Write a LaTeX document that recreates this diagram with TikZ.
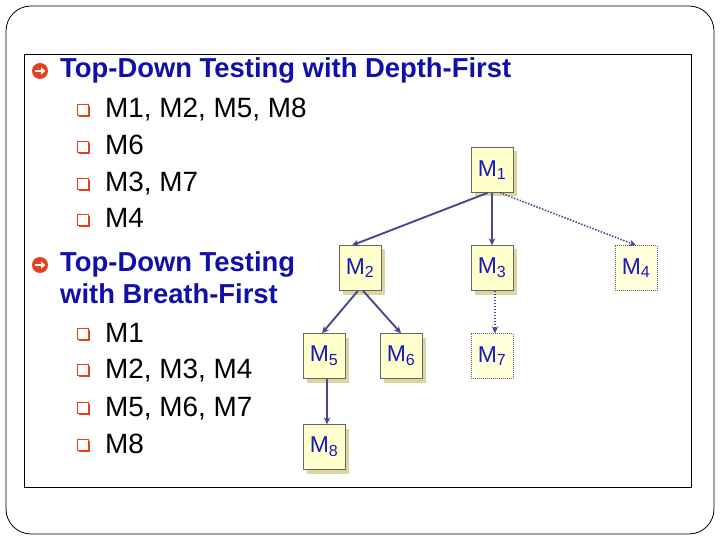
\documentclass[tikz,border=0pt]{standalone}
\usepackage{fontspec}
\setmainfont{Liberation Sans}
\usetikzlibrary{shadows,arrows.meta}
\definecolor{headblue}{RGB}{16,16,168}
\definecolor{boxblue}{RGB}{24,24,190}
\definecolor{bulletred}{RGB}{232,64,28}
\definecolor{linkblue}{RGB}{72,72,140}
\definecolor{boxfill}{RGB}{255,255,204}
\definecolor{boxshade}{RGB}{222,212,160}
\tikzset{
  modbox/.style={draw=black!60,fill=boxfill,minimum width=42bp,minimum height=45bp,inner sep=0pt,
    text=boxblue,font=\fontsize{23}{23}\selectfont,
    drop shadow={shadow xshift=4bp,shadow yshift=-4bp,fill=boxshade,opacity=1}},
  stubbox/.style={draw=black!60,dash pattern=on 1bp off 1bp,fill=boxfill!70,minimum width=42bp,minimum height=45bp,
    inner sep=0pt,text=boxblue,font=\fontsize{23}{23}\selectfont},
  link/.style={draw=linkblue,line width=1.9bp,-{Stealth[length=7bp,width=6.5bp]}},
  stublink/.style={link,line width=1.6bp,dash pattern=on 1.5bp off 1.5bp},
  headline/.style={anchor=base west,inner sep=0pt,text=headblue,font=\fontsize{27.5}{30}\selectfont\bfseries},
  itemline/.style={anchor=base west,inner sep=0pt,font=\fontsize{28}{30}\selectfont},
  headmark/.style={circle,fill=bulletred,minimum size=16bp,inner sep=0pt,
    path picture={\draw[white,line width=2.4bp,-{Triangle[length=4.5bp,width=7bp]}]
      ([xshift=-5.5bp]path picture bounding box.center) -- ([xshift=5.5bp]path picture bounding box.center);}},
  itemmark/.style={draw=bulletred,fill=white,line width=1.1bp,minimum size=11.5bp,inner sep=0pt,
    drop shadow={shadow xshift=1.6bp,shadow yshift=-1.6bp,fill=bulletred,opacity=1}}
}
\begin{document}
\begin{tikzpicture}[x=1bp,y=-1bp]
  \useasboundingbox[fill=white] (0,0) rectangle (720,540);
  \draw[line width=0.8bp,rounded corners=25bp] (6,6) rectangle (714,534);
  \draw[line width=0.8bp] (24,54) rectangle (691,487);

  % depth-first order
  \node[headmark] (h1) at (40,71) {};\node[headline] (t1) at (60,78) {Top-Down Testing with Depth-First};
  \node[itemmark] (b11) at (83,110) {};\node[itemline] (i11) at (105,118) {M1, M2, M5, M8};
  \node[itemmark] (b12) at (83,147) {};\node[itemline] (i12) at (105,155) {M6};
  \node[itemmark] (b13) at (83,184) {};\node[itemline] (i13) at (105,192) {M3, M7};
  \node[itemmark] (b14) at (83,220) {};\node[itemline] (i14) at (105,228) {M4};

  % breadth-first order
  \node[headmark] (h2) at (40,265) {};\node[headline] (t2) at (60,272) {Top-Down Testing};
  \node[headline] (t3) at (60,303) {with Breath-First};
  \node[itemmark] (b21) at (83,334) {};\node[itemline] (i21) at (105,342) {M1};
  \node[itemmark] (b22) at (83,370) {};\node[itemline] (i22) at (105,378) {M2, M3, M4};
  \node[itemmark] (b23) at (83,408) {};\node[itemline] (i23) at (105,416) {M5, M6, M7};
  \node[itemmark] (b24) at (83,445) {};\node[itemline] (i24) at (105,453) {M8};

  % module tree
  \node[modbox] (m1) at (492,170) {M\textsubscript{1}};
  \node[modbox] (m2) at (360,268) {M\textsubscript{2}};\node[modbox] (m3) at (492,268) {M\textsubscript{3}};\node[stubbox] (m4) at (636,268) {M\textsubscript{4}};
  \node[modbox] (m5) at (324,356) {M\textsubscript{5}};\node[modbox] (m6) at (401,356) {M\textsubscript{6}};\node[stubbox] (m7) at (492,356) {M\textsubscript{7}};
  \node[modbox] (m8) at (324,447) {M\textsubscript{8}};

  \draw[link] ([xshift=-4bp]m1.south) -- ([xshift=-8bp]m2.north);
  \draw[link] (m1.south) -- (m3.north);
  \draw[stublink] ([xshift=8bp]m1.south) -- (m4.north);
  \draw[link] ([xshift=-2bp]m2.south) -- ([xshift=-2bp]m5.north);
  \draw[link] ([xshift=3bp]m2.south) -- (m6.north);
  \draw[stublink] ([xshift=3bp]m3.south) -- ([xshift=3bp]m7.north);
  \draw[link] ([xshift=3bp]m5.south) -- ([xshift=3bp]m8.north);
\end{tikzpicture}
\end{document}
